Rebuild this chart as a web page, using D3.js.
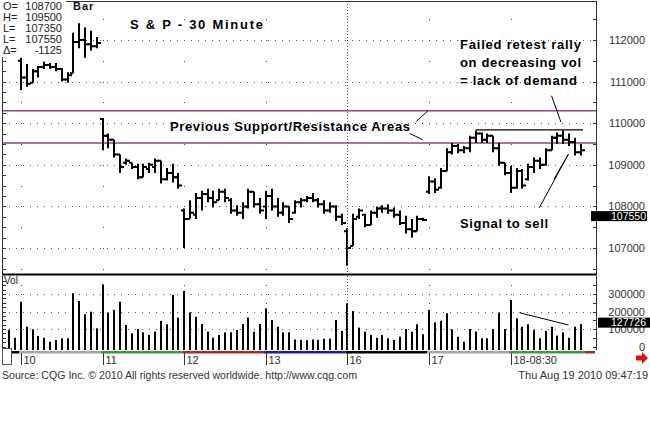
<!DOCTYPE html>
<html>
<head>
<meta charset="utf-8">
<script src="https://cdn.jsdelivr.net/npm/d3@7"></script>
<style>
  body { margin: 0; background: #fff; }
  svg { display: block; }
  text { font-family: "Liberation Sans", Arial, sans-serif; }
</style>
</head>
<body>
<script>
// sessions (Aug 9 .. Aug 18), 30 minute bars
const sessionLabels = ["9", "10", "11", "12", "13", "16", "17", "18-08:30"];
const sessionCounts = [2, 14, 14, 14, 14, 14, 14, 13];

const opens = [
  112450, 112400,
  111500, 111100, 110975, 111250, 111350, 111400, 111350, 111300, 111050, 111200, 111950, 112000, 111900, 111850,
  110100, 109700, 109600, 109250, 109050, 109050, 108950, 108700, 108900, 108950, 109100, 108650, 108800, 108700,
  107900, 107700, 107800, 108200, 108300, 108200, 108150, 108350, 108150, 107900, 107850, 108000, 108350, 108050,
  108000, 108250, 108000, 107850, 108000, 107850, 108100, 108150, 108200, 108150, 108050, 107900, 108000, 107750,
  107400, 107050, 107750, 107800, 107550, 107850, 107950, 107950, 107900, 107800, 107600, 107450, 107400, 107700,
  108350, 108600, 108450, 108850, 109300, 109450, 109350, 109400, 109650, 109750, 109600, 109700, 109400, 109050,
  108800, 108450, 108850, 108650, 108950, 109100, 109000, 109350, 109650, 109700, 109600, 109550, 109300
];
const highs = [
  112550, 112500,
  111575, 111425, 111300, 111375, 111475, 111450, 111450, 111325, 111225, 112175, 112400, 112300, 112225, 112075,
  110125, 109750, 109600, 109250, 109150, 109050, 109025, 109025, 109050, 109150, 109100, 108925, 109025, 108800,
  107950, 108150, 108325, 108375, 108425, 108375, 108425, 108425, 108200, 108025, 108100, 108425, 108350, 108200,
  108375, 108425, 108200, 108100, 108000, 108150, 108200, 108250, 108325, 108200, 108150, 108100, 108025, 107825,
  107475, 107825, 107950, 107825, 107900, 108000, 108025, 108050, 107975, 107900, 107775, 107700, 107775, 107725,
  108725, 108675, 108925, 109400, 109525, 109500, 109450, 109700, 109825, 109775, 109750, 109700, 109525, 109050,
  108975, 108925, 108900, 109025, 109175, 109175, 109400, 109700, 109775, 109825, 109750, 109650, 109500
];
const lows = [
  112300, 112250,
  110800, 110875, 110975, 111100, 111300, 111300, 111250, 111000, 110975, 111200, 111800, 111575, 111750, 111800,
  109350, 109400, 109175, 108800, 109000, 108900, 108650, 108700, 108800, 108800, 108550, 108625, 108575, 108425,
  107000, 107700, 107700, 107900, 108100, 107975, 108150, 108100, 107825, 107775, 107700, 107950, 107975, 107825,
  107700, 107900, 107750, 107775, 107600, 107825, 107975, 108100, 108100, 107975, 107825, 107850, 107650, 107550,
  106575, 107050, 107700, 107500, 107550, 107725, 107850, 107825, 107725, 107550, 107350, 107250, 107400, 107650,
  108300, 108325, 108425, 108850, 109250, 109275, 109275, 109300, 109525, 109525, 109525, 109300, 108975, 108750,
  108325, 108425, 108425, 108625, 108800, 108900, 108975, 109350, 109500, 109500, 109450, 109225, 109225
];
const closes = [
  112400, 112300,
  111100, 110950, 111250, 111350, 111400, 111350, 111300, 111050, 111150, 111950, 112000, 111900, 111850, 111925,
  109700, 109600, 109250, 108950, 109100, 108950, 108700, 108950, 109000, 109100, 108650, 108800, 108700, 108500,
  107700, 107850, 108200, 108300, 108200, 108100, 108350, 108200, 107900, 107850, 108000, 108350, 108050, 107900,
  108250, 108000, 107850, 108000, 107700, 108100, 108150, 108200, 108150, 108050, 107900, 108000, 107750, 107600,
  107000, 107700, 107900, 107550, 107850, 107950, 107950, 107900, 107800, 107600, 107450, 107400, 107700, 107675,
  108600, 108400, 108850, 109300, 109450, 109350, 109400, 109650, 109750, 109600, 109700, 109400, 109050, 108800,
  108450, 108850, 108500, 108950, 109100, 109000, 109350, 109650, 109700, 109600, 109550, 109300, 109350
];
const volumes = [
  94000, 50000,
  256000, 113000, 98000, 60000, 50000, 27000, 37000, 47000, 47000, 304000, 260000, 184000, 199000, 104000,
  355000, 193000, 209000, 256000, 123000, 75000, 100000, 81000, 66000, 85000, 146000, 127000, 294000, 165000,
  317000, 195000, 170000, 129000, 85000, 50000, 66000, 81000, 81000, 94000, 129000, 165000, 85000, 129000,
  218000, 151000, 113000, 81000, 81000, 40000, 38000, 36000, 40000, 38000, 45000, 45000, 151000, 89000,
  247000, 203000, 108000, 85000, 66000, 50000, 66000, 47000, 37000, 56000, 100000, 85000, 127000, 70000,
  209000, 138000, 147000, 190000, 98000, 56000, 27000, 100000, 85000, 47000, 47000, 100000, 193000, 100000,
  266000, 161000, 113000, 127000, 94000, 47000, 89000, 113000, 62000, 81000, 50000, 113000, 127726
];

const priceTicks = [107000, 108000, 109000, 110000, 111000, 112000];
const volumeTicks = [0, 100000, 200000, 300000];
const zoneLevels = [110300, 109525];   // previous support / resistance
const lastPrice = 107550;
const lastVolume = 127726;
const infoLabels = ["O=", "H=", "L=", "L=", "\u0394="];
const infoValues = ["108700", "109500", "107350", "107550", "-1125"];

// weekday colours for the session strip (Mon..Fri)
const weekdayColor = { Mon: "#000000", Tue: "#a8a8a8", Wed: "#3c9c3c", Thu: "#a82a2a", Fri: "#1c1c9c" };
const sessionDays = ["Mon", "Tue", "Wed", "Thu", "Fri", "Mon", "Tue", "Wed", "Thu"];

const W = 650, H = 426;
const L = 2, R = 597, PT = 1, PB = 274, VT = 276, VB = 350;

const svg = d3.select("body").append("svg").attr("width", W).attr("height", H);

const nBars = opens.length;
let starts = [], acc = 0;
sessionCounts.forEach(c => { starts.push(acc); acc += c; });

const x = d3.scaleLinear().domain([2, 98]).range([21, 580.7]);
const yP = d3.scaleLinear().domain([107000, 112000]).range([248, 40]);
const yV = d3.scaleLinear().domain([0, 300000]).range([346.5, 294]);

// clip areas
svg.append("clipPath").attr("id", "cp").append("rect").attr("x", L).attr("y", PT).attr("width", R - L).attr("height", PB - PT);
svg.append("clipPath").attr("id", "cv").append("rect").attr("x", L).attr("y", VT).attr("width", R - L).attr("height", VB - VT);

const gp = svg.append("g").attr("clip-path", "url(#cp)");
const gv = svg.append("g").attr("clip-path", "url(#cv)");

// horizontal grid
gp.selectAll(".hg").data(priceTicks).enter().append("line")
  .attr("x1", L).attr("x2", R).attr("y1", d => Math.round(yP(d)) + 0.5).attr("y2", d => Math.round(yP(d)) + 0.5)
  .attr("stroke", "#555").attr("stroke-dasharray", "1,6");
gv.selectAll(".hg").data(volumeTicks.slice(1)).enter().append("line")
  .attr("x1", L).attr("x2", R).attr("y1", d => Math.round(yV(d)) + 0.5).attr("y2", d => Math.round(yV(d)) + 0.5)
  .attr("stroke", "#555").attr("stroke-dasharray", "1,6");

// vertical grid at session starts
starts.slice(1).forEach((s, k) => {
  const xx = Math.round(x(s)) + 0.5;
  const weekly = sessionLabels[k + 1] === "16";
  if (weekly) {
    [[PT, PB], [VT, VB]].forEach(([a, b]) => {
      svg.append("line").attr("x1", xx).attr("x2", xx).attr("y1", a).attr("y2", b)
        .attr("stroke", "#555").attr("stroke-dasharray", "1,2");
    });
  } else {
    const pv = d3.range(106500, 112600, 500).map(v => yP(v)).filter(y => y > PT + 2 && y < PB - 2);
    gp.selectAll(null).data(pv).enter().append("rect")
      .attr("x", xx - 0.5).attr("y", d => Math.round(d)).attr("width", 1).attr("height", 1).attr("fill", "#444");
    const vv = d3.range(0, 400001, 50000).map(v => yV(v)).filter(y => y > VT + 2 && y < VB - 2);
    gv.selectAll(null).data(vv).enter().append("rect")
      .attr("x", xx - 0.5).attr("y", d => Math.round(d)).attr("width", 1).attr("height", 1).attr("fill", "#444");
  }
});

// zone lines
gp.selectAll(".zone").data(zoneLevels).enter().append("line")
  .attr("x1", L).attr("x2", R).attr("y1", d => yP(d)).attr("y2", d => yP(d))
  .attr("stroke", "#8a4678").attr("stroke-width", 1.4);

// price bars (OHLC)
const idx = d3.range(nBars);
gp.selectAll(".bar").data(idx).enter().append("path")
  .attr("d", i => {
    const cx = Math.round(x(i));
    return `M${cx},${yP(highs[i])}V${yP(lows[i])}M${cx - 3},${yP(opens[i])}H${cx}M${cx},${yP(closes[i])}H${cx + 4}`;
  })
  .attr("fill", "none").attr("stroke", "#000").attr("stroke-width", 2);

// volume bars
gv.selectAll(".vol").data(idx).enter().append("rect")
  .attr("x", i => Math.round(x(i)) - 1).attr("width", 2)
  .attr("y", i => yV(volumes[i])).attr("height", i => yV(0) - yV(volumes[i]) + 4)
  .attr("fill", "#000");

// annotation lines (data coordinates)
const ink = "#000";
function seg(g, a, b, w) {
  g.append("line").attr("x1", x(a[0])).attr("y1", yP(a[1])).attr("x2", x(b[0])).attr("y2", yP(b[1]))
    .attr("stroke", ink).attr("stroke-width", w || 1);
}
seg(gp, [80, 109840], [98.4, 109840], 1.2);
seg(gp, [69.8, 110040], [71.8, 110300], 1);
seg(gp, [68.7, 109755], [70.9, 109600], 1);
seg(gp, [93, 110660], [94.6, 110030], 1);
seg(gp, [90.9, 107965], [95.9, 109260], 1);
seg(gp, [93.4, 108650], [95.9, 109260], 1);
gv.append("line").attr("x1", x(87.5)).attr("y1", yV(193000)).attr("x2", x(95.9)).attr("y2", yV(123000))
  .attr("stroke", ink).attr("stroke-width", 1);

// frames
svg.append("rect").attr("x", L + 0.5).attr("y", PT + 0.5).attr("width", R - L - 1).attr("height", PB - PT)
  .attr("fill", "none").attr("stroke", "#333");
svg.append("line").attr("x1", L).attr("x2", R).attr("y1", 274.5).attr("y2", 274.5).attr("stroke", "#000").attr("stroke-width", 2);
svg.append("line").attr("x1", L + 0.5).attr("x2", L + 0.5).attr("y1", VT).attr("y2", VB).attr("stroke", "#333");
svg.append("line").attr("x1", R - 0.5).attr("x2", R - 0.5).attr("y1", VT).attr("y2", VB).attr("stroke", "#333");

// edge ticks
const lt = d3.range(106500, 112800, 250).map(v => yP(v)).filter(y => y > PT + 2 && y < PB - 1);
svg.selectAll(null).data(lt).enter().append("line")
  .attr("x1", L).attr("x2", L + 4).attr("y1", d => Math.round(d) + 0.5).attr("y2", d => Math.round(d) + 0.5).attr("stroke", "#333");
const rt = d3.range(106500, 112800, 500).map(v => yP(v)).filter(y => y > PT + 2 && y < PB - 1);
svg.selectAll(null).data(rt).enter().append("line")
  .attr("x1", R - 4).attr("x2", R).attr("y1", d => Math.round(d) + 0.5).attr("y2", d => Math.round(d) + 0.5).attr("stroke", "#333");
const vlt = d3.range(0, 400001, 25000).map(v => yV(v)).filter(y => y > VT + 2 && y < VB);
svg.selectAll(null).data(vlt).enter().append("line")
  .attr("x1", L).attr("x2", L + 4).attr("y1", d => Math.round(d) + 0.5).attr("y2", d => Math.round(d) + 0.5).attr("stroke", "#333");
const vrt = d3.range(0, 400001, 50000).map(v => yV(v)).filter(y => y > VT + 2 && y < VB);
svg.selectAll(null).data(vrt).enter().append("line")
  .attr("x1", R - 4).attr("x2", R).attr("y1", d => Math.round(d) + 0.5).attr("y2", d => Math.round(d) + 0.5).attr("stroke", "#333");

// right axes labels
function rightLabels(scale, ticks) {
  const ax = d3.axisRight(scale).tickValues(ticks).tickSize(0).tickPadding(0).tickFormat(d3.format("d"));
  svg.append("g").attr("transform", "translate(645,0)").call(ax)
    .call(g => g.select(".domain").remove())
    .selectAll("text").attr("text-anchor", "end").attr("fill", "#333").style("font-size", "11px")
    .style("font-family", "Liberation Sans, Arial, sans-serif");
}
rightLabels(yP, priceTicks);
rightLabels(yV, volumeTicks);

// last value boxes
function lastBox(yc, label, x0, w) {
  svg.append("rect").attr("x", x0).attr("y", yc - 5).attr("width", w).attr("height", 10).attr("fill", "#000");
  svg.append("text").attr("x", 646).attr("y", yc + 3.5).attr("text-anchor", "end").attr("fill", "#fff")
    .style("font-size", "10.5px").text(label);
}
lastBox(yP(lastPrice) - 9, d3.format("d")(lastPrice), 591, 56);
lastBox(yV(lastVolume) - 1.5, d3.format("d")(lastVolume), 598, 52);

// session strip + date labels
const sessEdges = starts.map(s => x(s) - 2);
sessEdges.push(x(nBars) - 2);
sessionDays.forEach((d, k) => {
  const a = Math.max(sessEdges[k], 12), b = k + 1 < sessEdges.length ? sessEdges[k + 1] : R - 2;
  svg.append("rect").attr("x", a).attr("y", 351).attr("width", Math.max(0, Math.min(b, R - 2) - a)).attr("height", 2.5)
    .attr("fill", weekdayColor[d]);
});
sessionLabels.forEach((lab, k) => {
  if (k === 0) return;
  const xx = Math.round(x(starts[k])) + 0.5;
  svg.append("line").attr("x1", xx).attr("x2", xx).attr("y1", 353).attr("y2", 365).attr("stroke", "#333");
  svg.append("text").attr("x", xx + 2).attr("y", 364).attr("fill", "#333").style("font-size", "11px").text(lab);
});
svg.append("rect").attr("x", 2.5).attr("y", 348.5).attr("width", 9).attr("height", 16).attr("fill", "#fff").attr("stroke", "#555");

// red arrow
svg.append("path").attr("d", "M636,355.5H642V352L648,358L642,364V360.5H636Z").attr("fill", "#e01010");

// info box
svg.append("rect").attr("x", 0).attr("y", 0).attr("width", 66).attr("height", 57).attr("fill", "#fff");
infoLabels.forEach((lab, k) => {
  svg.append("text").attr("x", 3).attr("y", 10 + k * 11).attr("fill", "#222").style("font-size", "11px").text(lab);
  svg.append("text").attr("x", 62).attr("y", 10 + k * 11).attr("text-anchor", "end").attr("fill", "#222")
    .style("font-size", "11px").text(infoValues[k]);
});
svg.append("text").attr("x", 73).attr("y", 10).attr("fill", "#111").style("font-size", "11px")
  .style("font-weight", "bold").attr("letter-spacing", "1").text("Bar");
svg.append("text").attr("x", 4).attr("y", 284).attr("fill", "#222").style("font-size", "10px").text("Vol");

// titles and annotations
function bold(tx, xx, yy, len) {
  svg.append("text").attr("x", xx).attr("y", yy).attr("fill", "#000")
    .style("font-size", "13px").style("font-weight", "bold")
    .attr("textLength", len).attr("lengthAdjust", "spacing").text(tx);
}
bold("S & P - 30 Minute", 130, 29, 133);
bold("Previous Support/Resistance Areas", 170, 131, 240);
bold("Failed retest rally", 460, 49, 121);
bold("on decreasing vol", 460, 67, 121);
bold("= lack of demand", 460, 85, 117);
bold("Signal to sell", 460, 228, 88);

// footer
svg.append("text").attr("x", 2).attr("y", 379).attr("fill", "#333").style("font-size", "11px")
  .attr("textLength", 355).attr("lengthAdjust", "spacingAndGlyphs")
  .text("Source: CQG Inc. \u00a9 2010 All rights reserved worldwide. http://www.cqg.com");
svg.append("text").attr("x", 648).attr("y", 379).attr("text-anchor", "end").attr("fill", "#333").style("font-size", "11px")
  .text("Thu Aug 19 2010 09:47:19");
</script>
</body>
</html>
